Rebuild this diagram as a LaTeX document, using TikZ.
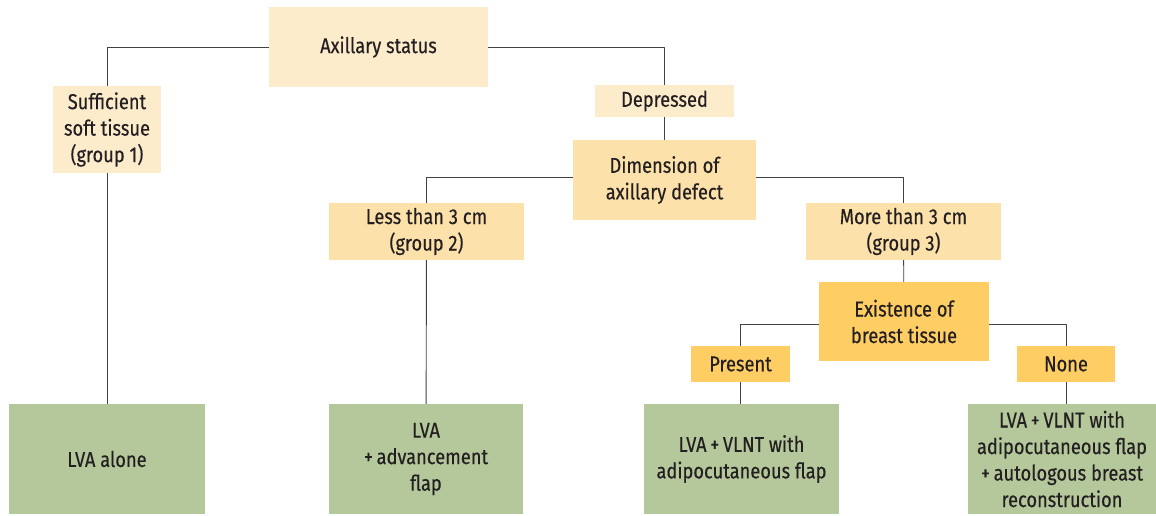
\documentclass[tikz,border=0pt]{standalone}
\usepackage{fontspec}
\setmainfont{Fira Sans}[FakeStretch=0.85, FakeBold=0.35]
\usetikzlibrary{positioning}
\definecolor{pale}{RGB}{253,236,204}
\definecolor{tan}{RGB}{253,225,170}
\definecolor{gold}{RGB}{254,205,100}
\definecolor{sage}{RGB}{180,200,155}
\definecolor{ink}{RGB}{35,31,32}
\tikzset{
  box/.style={fill=#1, text=ink, align=center, inner sep=0pt},
  link/.style={draw=ink!85, line width=0.9pt}
}
\begin{document}
\begin{tikzpicture}[x=1pt, y=-1pt, line join=round, font=\fontsize{21.5}{26.5}\selectfont]
  \useasboundingbox (0,0) rectangle (1156,515);
  % decision boxes
  \node[box=pale, minimum width=219, minimum height=80] (axil) at (378.5,47) {Axillary status};
  \node[box=pale, minimum width=108, minimum height=87] (suff) at (107,129.5) {Sufficient\\soft tissue\\(group 1)};
  \node[box=pale, minimum width=139, minimum height=32] (depr) at (664.5,101) {Depressed};
  \node[box=tan, minimum width=183, minimum height=80] (dim) at (664.5,180) {Dimension of\\axillary defect};
  \node[box=tan, minimum width=195, minimum height=57] (less) at (426.5,231.5) {Less than 3 cm\\(group 2)};
  \node[box=tan, minimum width=195, minimum height=57] (more) at (903.5,231.5) {More than 3 cm\\(group 3)};
  \node[box=gold, minimum width=170, minimum height=79] (exist) at (904,321.5) {Existence of\\breast tissue};
  \node[box=gold, minimum width=99, minimum height=36] (pres) at (740.5,364) {Present};
  \node[box=gold, minimum width=98, minimum height=36] (none) at (1066,364) {None};
  % outcomes
  \node[box=sage, minimum width=196, minimum height=110] (alone) at (107,459) {LVA alone};
  \node[box=sage, minimum width=194, minimum height=110] (adv) at (426,459) {LVA\\+\,advancement\\flap};
  \node[box=sage, minimum width=195, minimum height=110] (vlnt) at (741.5,459) {LVA\,+\,VLNT with\\adipocutaneous flap};
  \node[box=sage, minimum width=188, minimum height=110] (full) at (1062,459) {LVA\,+\,VLNT with\\adipocutaneous flap\\+\,autologous breast\\reconstruction};
  % connectors
  \draw[link] (axil.west) -| (suff.north);
  \draw[link] (axil.east) -| (depr.north);
  \draw[link] (depr) -- (dim);
  \draw[link] ([yshift=3]dim.west) -| (less.north);
  \draw[link] ([yshift=3]dim.east) -| (more.north);
  \draw[link] (more) -- (exist);
  \draw[link] ([yshift=-2.5]exist.west) -| (pres.north);
  \draw[link] ([yshift=-2.5]exist.east) -| (none.north);
  \draw[link] (suff) -- (alone);
  \draw[link] (less) -- (adv);
  \draw[link] (pres.south) -- (pres.south |- vlnt.north);
  \draw[link] (none.south) -- (none.south |- full.north);
\end{tikzpicture}
\end{document}
